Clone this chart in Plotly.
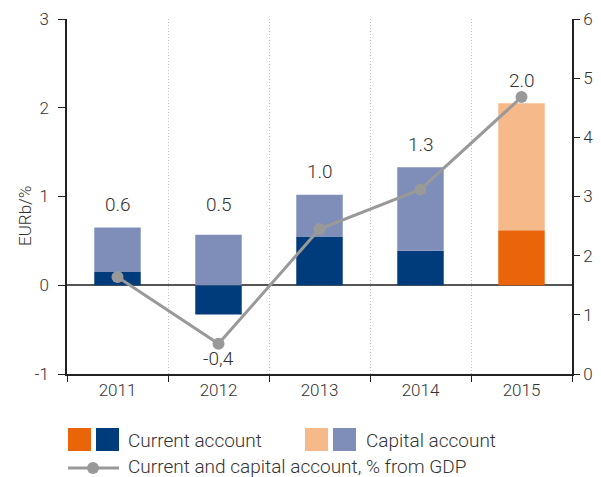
import plotly.graph_objects as go

years = ["2011", "2012", "2013", "2014", "2015"]
current_account = [0.15, -0.33, 0.55, 0.39, 0.62]
capital_account = [0.50, 0.57, 0.47, 0.94, 1.43]
gdp_share = [1.64, 0.51, 2.45, 3.12, 4.68]
total_labels = ["0.6", "0.5", "1.0", "1.3", "2.0"]
line_labels = {"2012": "-0,4"}
left_ticks = [-1, 0, 1, 2, 3]
left_tick_text = ["-1", "0", "1", "2", "3"]

NAVY = "#003B7B"
ORANGE = "#EA650A"
LAVENDER = "#7F8EB8"
PEACH = "#F6B98A"
GRAY = "#999999"
TEXT = "#333333"
FONT = "Roboto"

cur_colors = [NAVY] * 4 + [ORANGE]
cap_colors = [LAVENDER] * 4 + [PEACH]

W, H = 601, 477
L, R, T, B = 67, 572, 19, 374


def px(x):
    return (x - L) / (R - L)


def py(y):
    return (B - y) / (B - T)


fig = go.Figure()
fig.add_trace(go.Bar(x=years, y=current_account, marker=dict(color=cur_colors, line=dict(width=0)),
                     width=0.46, showlegend=False, hoverinfo="skip"))
fig.add_trace(go.Bar(x=years, y=capital_account, marker=dict(color=cap_colors, line=dict(width=0)),
                     width=0.46, showlegend=False, hoverinfo="skip"))
fig.add_trace(go.Scatter(x=years, y=gdp_share, yaxis="y2", mode="lines+markers",
                         line=dict(color=GRAY, width=3), marker=dict(color=GRAY, size=12),
                         showlegend=False, hoverinfo="skip"))

label_font = dict(family=FONT, size=19, color=TEXT, weight=300)
annotations = []
label_floor = 0.65
for i, (c, k, lab) in enumerate(zip(current_account, capital_account, total_labels)):
    top = max(c, 0) + k
    annotations.append(dict(x=i, y=max(top, label_floor), xref="x", yref="y", text=lab,
                            showarrow=False, yshift=23, yanchor="middle", font=label_font))
for i, (yr, v) in enumerate(zip(years, gdp_share)):
    if yr in line_labels:
        annotations.append(dict(x=i, y=v, xref="x", yref="y2", text=line_labels[yr],
                                showarrow=False, yshift=-15, yanchor="middle", font=label_font))

annotations.append(dict(x=px(25), y=py(216), xref="paper", yref="paper", text="EURb/%",
                        textangle=-90, showarrow=False, xanchor="center", yanchor="middle",
                        font=dict(family=FONT, size=17, color=TEXT, weight=300)))

legend_font = dict(family=FONT, size=19, color=TEXT, weight=300)
annotations.append(dict(x=px(126), y=py(440), xref="paper", yref="paper", text="Current account",
                        showarrow=False, xanchor="left", yanchor="middle", font=legend_font))
annotations.append(dict(x=px(364), y=py(440), xref="paper", yref="paper", text="Capital account",
                        showarrow=False, xanchor="left", yanchor="middle", font=legend_font))
annotations.append(dict(x=px(126), y=py(466), xref="paper", yref="paper",
                        text="Current and capital account, % from GDP",
                        showarrow=False, xanchor="left", yanchor="middle", font=legend_font))

shapes = []
for (x0, x1, col) in [(68, 91, ORANGE), (96, 119, NAVY), (305, 328, PEACH), (333, 356, LAVENDER)]:
    shapes.append(dict(type="rect", xref="paper", yref="paper", x0=px(x0), x1=px(x1),
                       y0=py(451), y1=py(428), fillcolor=col, line=dict(width=0), layer="above"))
shapes.append(dict(type="line", xref="paper", yref="paper", x0=px(68), x1=px(119),
                   y0=py(468), y1=py(468), line=dict(color=GRAY, width=3)))
shapes.append(dict(type="circle", xref="paper", yref="paper", x0=px(87), x1=px(99),
                   y0=py(474), y1=py(462), fillcolor=GRAY, line=dict(width=0)))

tickfont = dict(family=FONT, size=17, color=TEXT, weight=300)

fig.update_layout(
    width=W, height=H,
    margin=dict(l=L, r=W - R, t=T, b=H - B, pad=0, autoexpand=False),
    paper_bgcolor="white", plot_bgcolor="white",
    barmode="relative", bargap=0.54,
    xaxis=dict(type="category", tickson="boundaries", ticks="outside", ticklen=6,
               tickcolor="#222222", showline=True, linecolor="#222222", linewidth=1.5,
               showgrid=True, gridcolor="#C4C4C4", griddash="1px,2px", gridwidth=1,
               tickfont=tickfont, range=[-0.5, 4.5], fixedrange=True, automargin=False),
    yaxis=dict(range=[-1, 3], tickmode="array", tickvals=left_ticks, ticktext=left_tick_text,
               ticks="outside", ticklen=7, tickcolor="#222222",
               showline=True, linecolor="#222222", linewidth=1.5, showgrid=False,
               zeroline=True, zerolinecolor="#555555", zerolinewidth=2, automargin=False,
               tickfont=tickfont, ticklabelstandoff=6, fixedrange=True),
    yaxis2=dict(range=[0, 6], dtick=1, overlaying="y", side="right", ticks="outside",
                ticklen=6, tickcolor="#222222", showline=True, linecolor="#222222",
                linewidth=1.5, showgrid=False, zeroline=False, tickfont=tickfont,
                automargin=False, fixedrange=True),
    annotations=annotations,
    shapes=shapes,
)

fig.write_html("out.html", config={"displayModeBar": False},
               post_script="document.body.style.margin='0';document.body.style.padding='0';")
